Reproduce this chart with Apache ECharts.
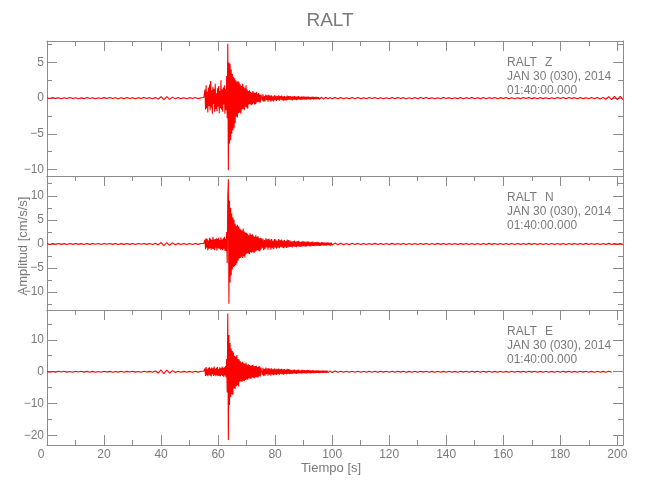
<!DOCTYPE html>
<html><head><meta charset="utf-8">
<script src="https://cdn.jsdelivr.net/npm/echarts@6/dist/echarts.min.js"></script>
<style>html,body{margin:0;padding:0;background:#fff}#c{width:650px;height:500px}</style>
</head><body><div id="c"></div>
<script>
// ---- sampling of the traces (segments: start time [s], step [s]) ----
const segStart = [0, 55, 75.25, 101];
const segStep  = [1, 0.2, 0.25, 1];

// ---- RALT Z ----
const zQuiet = [0.05,-0.06,0.08,-0.04,0.07,-0.08,0.05,-0.06,0.09,-0.05,
  0.06,-0.08,0.04,-0.07,0.08,-0.05,0.06,-0.09,0.05,-0.06,
  0.07,-0.05,0.08,-0.06,0.05,-0.08,0.06,-0.07,0.09,-0.05,
  0.06,-0.08,0.07,-0.05,0.08,-0.06,0.07,-0.09,0.1,-0.14,
  0.2,-0.22,0.2,-0.18,0.14,-0.1,0.08,-0.07,0.06,-0.08,
  0.07,-0.06,0.08,-0.07,0.06];
const zEvent = [0.08,-0.1,1.2,-1.6,1.8,-1.4,0.9,-2.0,1.5,-1.1,
  1.9,-1.7,2.4,-1.3,1.1,-2.2,1.6,-0.8,1.3,-1.9,
  2.0,-1.5,0.7,-1.8,1.4,-1.2,1.7,-2.1,1.0,-1.4,
  2.5,-1.6,1.2,-1.9,1.5,-0.9,1.8,-2.2,1.3,-1.7,
  3.1,-2.8,7.6,-10.1,5.0,-6.4,4.8,-5.9,4.0,-5.0,
  3.4,-4.5,3.0,-4.2,2.8,-3.5,2.5,-2.6,2.3,-2.7,
  2.4,-2.1,2.2,-2.0,1.9,-2.2,1.7,-1.6,2.0,-1.5,
  1.6,-1.7,1.4,-1.2,1.8,-1.3,1.2,-1.5,1.0,-0.9,
  1.1,-0.8,0.9,-1.0,0.8,-0.9,1.0,-0.7,0.8,-0.9,
  0.7,-0.8,0.9,-0.6,0.6,-0.5,0.7,-0.6,0.5,-0.6,
  0.5];
const zCoda = [0.5,-0.35,0.55,-0.5,0.3,-0.45,0.5,-0.25,0.4,-0.5,
  0.45,-0.3,0.35,-0.5,0.4,-0.35,0.25,-0.45,0.4,-0.3,
  0.35,-0.4,0.3,-0.25,0.4,-0.35,0.3,-0.2,0.35,-0.3,
  0.25,-0.35,0.3,-0.3,0.2,-0.3,0.35,-0.25,0.3,-0.2,
  0.3,-0.25,0.2,-0.3,0.25,-0.2,0.3,-0.25,0.2,-0.28,
  0.25,-0.2,0.28,-0.22,0.18,-0.25,0.22,-0.2,0.25,-0.18,
  0.2,-0.22,0.18,-0.2,0.22,-0.15,0.2,-0.18,0.15,-0.2,
  0.18,-0.15,0.2,-0.17,0.14,-0.18,0.16,-0.14,0.18,-0.15,
  0.15,-0.16,0.12,-0.15,0.14,-0.12,0.15,-0.13,0.11,-0.14,
  0.12,-0.13,0.14,-0.1,0.12,-0.12,0.1,-0.13,0.11,-0.1];
const zTail = [0.1,-0.08,0.09,-0.1,0.07,-0.09,0.08,-0.07,0.09,-0.08,
  0.07,-0.09,0.08,-0.06,0.09,-0.08,0.07,-0.09,0.06,-0.08,
  0.08,-0.07,0.09,-0.06,0.07,-0.08,0.06,-0.09,0.08,-0.07,
  0.09,-0.06,0.08,-0.07,0.06,-0.09,0.07,-0.08,0.09,-0.06,
  0.07,-0.08,0.06,-0.07,0.09,-0.08,0.07,-0.06,0.08,-0.09,
  0.06,-0.07,0.08,-0.09,0.07,-0.06,0.09,-0.08,0.07,-0.06,
  0.08,-0.09,0.07,-0.08,0.06,-0.07,0.09,-0.06,0.08,-0.07,
  0.07,-0.08,0.09,-0.07,0.06,-0.08,0.07,-0.09,0.08,-0.06,
  0.09,-0.07,0.08,-0.06,0.07,-0.09,0.08,-0.07,0.06,-0.08,
  0.09,-0.1,0.08,-0.12,0.11,-0.15,0.2,-0.22,0.25,-0.2,
  0.24,-0.22];

// ---- RALT N ----
const nQuiet = [0.08,-0.1,0.09,-0.07,0.1,-0.09,0.07,-0.1,0.08,-0.09,
  0.1,-0.08,0.07,-0.1,0.09,-0.08,0.1,-0.07,0.08,-0.1,
  0.09,-0.07,0.1,-0.09,0.08,-0.1,0.07,-0.08,0.1,-0.09,
  0.08,-0.1,0.09,-0.07,0.1,-0.08,0.09,-0.1,0.15,-0.2,
  0.3,-0.35,0.28,-0.3,0.22,-0.15,0.12,-0.1,0.09,-0.1,
  0.08,-0.1,0.09,-0.08,0.1];
const nEvent = [0.1,-0.15,0.9,-1.1,1.2,-0.8,1.0,-1.3,0.7,-1.0,
  1.3,-0.9,1.1,-1.2,0.8,-1.0,1.5,-1.1,0.9,-1.3,
  1.0,-0.8,1.2,-1.4,1.1,-0.9,1.3,-1.0,0.8,-1.2,
  1.4,-1.1,0.9,-1.3,1.2,-1.0,1.5,-1.4,1.1,-1.5,
  2.5,-4.0,9.6,13.4,-12.4,9.0,-8.0,7.5,-6.5,6.3,
  -5.3,5.5,-4.8,5.0,-4.6,4.2,-4.4,3.8,-4.0,4.0,
  -3.5,3.6,-3.0,3.2,-2.9,3.0,-2.6,2.8,-2.9,3.2,
  -2.5,2.6,-2.8,2.4,-2.2,2.3,-1.9,2.1,-2.0,1.8,
  -2.1,2.2,-1.7,1.9,-1.8,2.0,-1.6,1.7,-1.9,1.5,
  -1.6,1.8,-1.4,1.5,-1.3,1.6,-1.4,1.2,-1.5,1.3,
  -1.2];
const nCoda = [1.2,-0.9,1.1,-1.3,0.8,-1.1,1.2,-0.7,1.0,-1.2,
  1.1,-0.8,0.9,-1.2,1.0,-0.9,0.7,-1.1,1.0,-0.8,
  0.9,-1.0,0.7,-0.8,1.0,-0.9,0.8,-0.6,0.9,-0.8,
  0.7,-0.9,0.8,-0.7,0.6,-0.8,0.9,-0.7,0.8,-0.6,
  0.7,-0.6,0.5,-0.7,0.6,-0.5,0.7,-0.6,0.5,-0.65,
  0.6,-0.5,0.65,-0.55,0.45,-0.6,0.5,-0.5,0.6,-0.45,
  0.5,-0.55,0.45,-0.5,0.55,-0.4,0.5,-0.45,0.4,-0.5,
  0.45,-0.4,0.5,-0.42,0.35,-0.45,0.4,-0.35,0.45,-0.38,
  0.38,-0.4,0.3,-0.38,0.35,-0.3,0.38,-0.32,0.28,-0.35,
  0.3,-0.32,0.35,-0.25,0.3,-0.3,0.25,-0.32,0.28,-0.25];
const nTail = [0.18,-0.15,0.14,-0.16,0.12,-0.14,0.13,-0.11,0.12,-0.13,
  0.11,-0.12,0.1,-0.11,0.12,-0.1,0.11,-0.12,0.1,-0.11,
  0.12,-0.1,0.11,-0.09,0.1,-0.12,0.09,-0.11,0.1,-0.1,
  0.11,-0.09,0.1,-0.11,0.09,-0.1,0.12,-0.09,0.1,-0.11,
  0.09,-0.1,0.11,-0.12,0.1,-0.09,0.11,-0.1,0.09,-0.12,
  0.1,-0.11,0.09,-0.1,0.12,-0.09,0.1,-0.11,0.09,-0.1,
  0.11,-0.1,0.09,-0.12,0.1,-0.09,0.11,-0.1,0.12,-0.09,
  0.1,-0.11,0.09,-0.1,0.11,-0.12,0.09,-0.1,0.11,-0.09,
  0.1,-0.12,0.11,-0.09,0.1,-0.11,0.09,-0.1,0.12,-0.1,
  0.11,-0.09,0.1,-0.11,0.09,-0.1,0.12,-0.11,0.1,-0.09,
  0.1,-0.1];

// ---- RALT E ----
const eQuiet = [0.12,-0.15,0.1,-0.13,0.15,-0.11,0.14,-0.12,0.1,-0.15,
  0.13,-0.1,0.15,-0.12,0.11,-0.14,0.12,-0.15,0.1,-0.13,
  0.15,-0.11,0.12,-0.14,0.1,-0.12,0.15,-0.13,0.11,-0.1,
  0.14,-0.12,0.1,-0.15,0.13,-0.11,0.12,-0.14,0.25,-0.4,
  0.55,-0.6,0.5,-0.45,0.35,-0.25,0.18,-0.15,0.12,-0.14,
  0.11,-0.13,0.15,-0.12,0.14];
const eEvent = [0.15,-0.2,1.0,-1.3,1.5,-1.1,0.8,-1.4,1.2,-0.9,
  1.4,-1.2,1.0,-1.5,1.3,-0.8,1.1,-1.3,1.6,-1.0,
  0.9,-1.4,1.2,-1.1,1.5,-1.3,0.8,-1.2,1.4,-1.5,
  1.1,-1.0,1.6,-1.3,1.2,-1.6,1.4,-1.2,1.8,-1.7,
  4.0,-6.5,18.2,-21.3,11.5,-10.4,9.0,-8.0,7.3,-7.0,
  6.5,-7.2,6.0,-5.2,5.0,-5.4,4.8,-4.5,5.2,-4.2,
  4.0,-4.6,3.8,-3.1,3.3,-3.0,2.9,-3.2,3.1,-2.8,
  2.7,-3.0,2.5,-2.6,2.9,-2.4,2.2,-2.5,2.3,-2.0,
  2.1,-2.2,1.9,-2.1,2.0,-1.8,2.2,-1.9,1.7,-2.0,
  1.8,-1.6,1.9,-1.7,1.5,-1.8,1.6,-1.4,1.7,-1.5,
  1.3];
const eCoda = [1.3,-1.0,1.2,-1.3,0.9,-1.2,1.3,-0.8,1.1,-1.2,
  1.1,-0.9,1.0,-1.2,1.1,-0.9,0.8,-1.1,1.0,-0.9,
  0.9,-1.0,0.8,-0.8,1.0,-0.9,0.8,-0.7,0.9,-0.8,
  0.75,-0.9,0.8,-0.7,0.65,-0.8,0.9,-0.7,0.8,-0.65,
  0.7,-0.65,0.55,-0.7,0.6,-0.55,0.7,-0.6,0.5,-0.65,
  0.6,-0.5,0.65,-0.55,0.45,-0.6,0.55,-0.5,0.6,-0.45,
  0.5,-0.55,0.45,-0.5,0.55,-0.42,0.5,-0.45,0.4,-0.5,
  0.45,-0.4,0.5,-0.42,0.38,-0.45,0.4,-0.36,0.45,-0.38,
  0.38,-0.4,0.32,-0.38,0.35,-0.32,0.38,-0.33,0.3,-0.35,
  0.32,-0.33,0.35,-0.28,0.3,-0.3,0.28,-0.32,0.3,-0.26];
const eTail = [0.2,-0.18,0.17,-0.18,0.16,-0.17,0.15,-0.17,0.16,-0.14,
  0.15,-0.16,0.13,-0.15,0.14,-0.13,0.15,-0.12,0.14,-0.15,
  0.13,-0.14,0.15,-0.12,0.14,-0.13,0.12,-0.15,0.13,-0.14,
  0.15,-0.12,0.13,-0.14,0.12,-0.15,0.14,-0.13,0.12,-0.14,
  0.13,-0.15,0.12,-0.13,0.14,-0.12,0.15,-0.14,0.13,-0.12,
  0.14,-0.13,0.15,-0.12,0.13,-0.14,0.12,-0.15,0.14,-0.13,
  0.12,-0.14,0.13,-0.15,0.14,-0.12,0.13,-0.14,0.15,-0.12,
  0.14,-0.13,0.12,-0.15,0.13,-0.14,0.12,-0.13,0.15,-0.14,
  0.13,-0.12,0.14,-0.15,0.12,-0.13,0.14,-0.12,0.15,-0.13,
  0.12,-0.14,0.13,-0.15,0.12,-0.13,0.14,-0.12];

// ---- axes: extents and tick labels ----
const components = ['Z', 'N', 'E'];
const stationName = 'RALT';
const dateLine = 'JAN 30 (030), 2014';
const timeLine = '01:40:00.000';
const xMin = 0, xMax = 202;
const xLabelValues = [0,20,40,60,80,100,120,140,160,180,200];
const xMajorTicks = [20,40,60,80,100,120,140,160,180,200];
const xMinorTicks = [10,30,50,70,90,110,130,150,170,190];
const yMins = [-10.9, -13.7, -22.9];
const yMaxs = [8, 14.1, 19.3];
const yMajor = [[-10,-5,0,5], [-10,-5,0,5,10], [-20,-10,0,10]];
const yMinor = [[-7.5,-2.5,2.5,7.5], [-12.5,-7.5,-2.5,2.5,7.5,12.5], [-15,-5,5,15]];
const titleText = 'RALT';
const xName = 'Tiempo [s]';
const yName = 'Amplitud [cm/s/s]';

function build(segs) {
  const out = [];
  segs.forEach((vals, k) => vals.forEach((v, i) => out.push([+(segStart[k] + i * segStep[k]).toFixed(2), v])));
  return out;
}
const traces = [
  build([zQuiet, zEvent, zCoda, zTail]),
  build([nQuiet, nEvent, nCoda, nTail]),
  build([eQuiet, eEvent, eCoda, eTail])
];

// ---- layout / style ----
const FONT = "'Liberation Sans', Arial, sans-serif";
const NARROW = "'Liberation Sans Narrow', 'Liberation Sans', sans-serif";
const AX = '#8c8c8c', TXT = '#7a7a7a';
const panelTop = [41, 176, 310], panelH = [135, 134, 135];
const L = 47, W = 576;

const grids = [], xAxes = [], yAxes = [], series = [], graphic = [];
for (let p = 0; p < 3; p++) grids.push({left: L, width: W, top: panelTop[p], height: panelH[p]});
for (let p = 0; p < 3; p++) grids.push({left: L, width: W, top: panelTop[p], height: panelH[p]});

function ax(gridIndex, min, max, position, line, tickLen, tickVals, label) {
  return {
    gridIndex, type: 'value', min, max, position, scale: false,
    axisLine: {show: line, onZero: false, lineStyle: {color: AX, width: 1}},
    axisTick: tickVals ? {show: true, inside: true, length: tickLen, customValues: tickVals, lineStyle: {color: AX, width: 1}} : {show: false},
    axisLabel: label || {show: false},
    splitLine: {show: false}, minorTick: {show: false}, minorSplitLine: {show: false}
  };
}
const minus = v => (v < 0 ? '\u2212' + Math.abs(v) : String(v));

for (let p = 0; p < 3; p++) {
  const bottomLabel = p === 2 ? {
    show: true, customValues: xLabelValues, margin: 4, color: TXT, fontFamily: FONT, fontSize: 12,
    formatter: v => (v === 0 ? '{l|0}' : String(v)),
    rich: {l: {padding: [0, 12, 0, 0], color: TXT, fontFamily: FONT, fontSize: 12}}
  } : null;
  xAxes.push(ax(p, xMin, xMax, 'bottom', true, 10, p === 2 ? xMajorTicks : null, bottomLabel));
  xAxes.push(ax(p, xMin, xMax, 'top', true, 10, xMajorTicks, null));
  xAxes.push(ax(p + 3, xMin, xMax, 'top', false, 5, xMinorTicks, null));

  yAxes.push(ax(p, yMins[p], yMaxs[p], 'left', true, 10, yMajor[p], {
    show: true, customValues: yMajor[p], margin: 3, color: TXT, fontFamily: FONT, fontSize: 12, formatter: minus
  }));
  yAxes.push(ax(p, yMins[p], yMaxs[p], 'right', true, 10, yMajor[p], null));
  yAxes.push(ax(p + 3, yMins[p], yMaxs[p], 'left', false, 5, yMinor[p], null));
  yAxes.push(ax(p + 3, yMins[p], yMaxs[p], 'right', false, 5, yMinor[p], null));

  series.push({
    type: 'line', xAxisIndex: 3 * p, yAxisIndex: 4 * p, data: traces[p],
    showSymbol: false, symbol: 'none', silent: true, clip: true,
    lineStyle: {color: '#ff0000', width: 1.1}
  });

  const T = panelTop[p];
  const tstyle = {fill: TXT, fontFamily: FONT, fontSize: 12, textAlign: 'left', textVerticalAlign: 'middle', align: 'left', verticalAlign: 'middle'};
  graphic.push({type: 'text', x: 507, y: T + 21.5, style: Object.assign({text: stationName}, tstyle)});
  graphic.push({type: 'text', x: 545, y: T + 21.5, style: Object.assign({text: components[p]}, tstyle)});
  graphic.push({type: 'text', x: 507, y: T + 35.8, style: Object.assign({text: dateLine}, tstyle)});
  graphic.push({type: 'text', x: 507, y: T + 50, style: Object.assign({text: timeLine}, tstyle)});
}
xAxes.push(ax(5, xMin, xMax, 'bottom', false, 5, xMinorTicks, null));

const cstyle = {fill: TXT, textAlign: 'center', textVerticalAlign: 'middle', align: 'center', verticalAlign: 'middle'};
graphic.push({type: 'text', x: 330, y: 21, style: Object.assign({text: titleText, fontFamily: NARROW, fontSize: 19}, cstyle)});
graphic.push({type: 'text', x: 331, y: 468, style: Object.assign({text: xName, fontFamily: FONT, fontSize: 13}, cstyle)});
graphic.push({type: 'text', x: 23, y: 246, rotation: Math.PI / 2, style: Object.assign({text: yName, fontFamily: FONT, fontSize: 13}, cstyle)});

const chart = echarts.init(document.getElementById('c'), null, {renderer: 'canvas'});
chart.setOption({
  animation: false,
  backgroundColor: '#fff',
  grid: grids, xAxis: xAxes, yAxis: yAxes, series, graphic
});
</script></body></html>
